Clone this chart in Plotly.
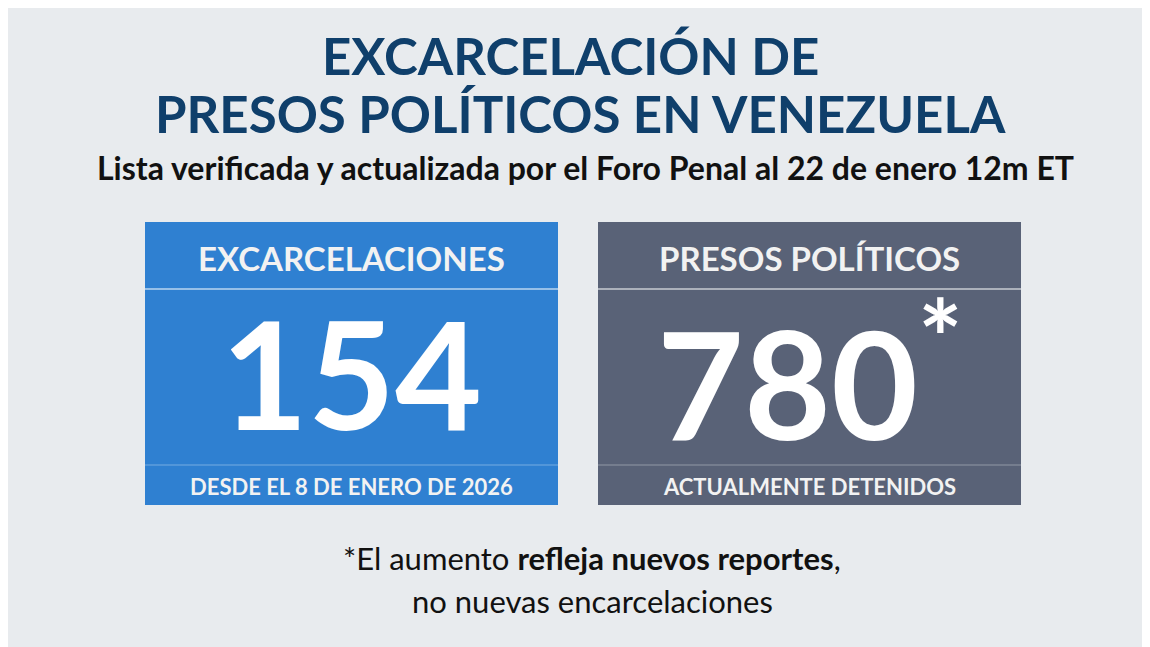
import plotly.graph_objects as go

# --- data ---------------------------------------------------------------
titles = ["EXCARCELACIÓN DE", "PRESOS POLÍTICOS EN VENEZUELA"]
subtitle = "Lista verificada y actualizada por el Foro Penal al 22 de enero 12m ET"
box_labels = ["EXCARCELACIONES", "PRESOS POLÍTICOS"]
box_values = ["154", "780<sup>*</sup>"]
box_notes = ["DESDE EL 8 DE ENERO DE 2026", "ACTUALMENTE DETENIDOS"]
box_colors = ["#2f80d1", "#596277"]
box_x = [(145, 558), (598, 1021)]
footnote = ["*El aumento <b>refleja nuevos reportes</b>,", "no nuevas encarcelaciones"]

W, H = 1150, 647
OFF = 8  # page body margin
font = "Lato"

fig = go.Figure()
shapes = []
ann = []

title_y = [55, 113]
for i, t in enumerate(titles):
    ann.append(dict(x=W / 2 + (-5 if i == 0 else 5), y=title_y[i], text=f"<b>{t}</b>",
                    font=dict(size=51, color="#0f3f6b", family=font)))
ann.append(dict(x=W / 2 + 10, y=167, text=f"<b>{subtitle}</b>",
                font=dict(size=32, color="#111111", family=font)))

for (x0, x1), lab, val, note, col in zip(box_x, box_labels, box_values, box_notes, box_colors):
    shapes.append(dict(type="rect", x0=x0, x1=x1, y0=222, y1=505,
                       fillcolor=col, line=dict(width=0), layer="below"))
    shapes.append(dict(type="line", x0=x0, x1=x1, y0=289, y1=289,
                       line=dict(color="rgba(255,255,255,0.5)", width=2)))
    shapes.append(dict(type="line", x0=x0, x1=x1, y0=465, y1=465,
                       line=dict(color="rgba(255,255,255,0.35)", width=1)))
    cx = (x0 + x1) / 2
    ann.append(dict(x=cx, y=258, text=f"<b>{lab}</b>",
                    font=dict(size=33, color="#f2f2f2", family=font)))
    ann.append(dict(x=cx, y=372, text=f"<b>{val}</b>",
                    font=dict(size=150, color="white", family=font)))
    ann.append(dict(x=cx, y=486, text=f"<b>{note}</b>",
                    font=dict(size=22, color="#f2f2f2", family=font)))

for i, t in enumerate(footnote):
    ann.append(dict(x=W / 2 + 17, y=558 + i * 43, text=t,
                    font=dict(size=31, color="#111111", family=font)))

for a in ann:
    a.update(xref="x", yref="y", showarrow=False, xanchor="center", yanchor="middle")

fig.update_layout(
    width=W, height=H, margin=dict(l=0, r=0, t=0, b=0),
    paper_bgcolor="#e8ebee", plot_bgcolor="#e8ebee",
    xaxis=dict(range=[OFF, W + OFF], visible=False, fixedrange=True),
    yaxis=dict(range=[H + OFF, OFF], visible=False, fixedrange=True),
    shapes=shapes, annotations=ann, showlegend=False,
)

fig.write_html("out.html")
